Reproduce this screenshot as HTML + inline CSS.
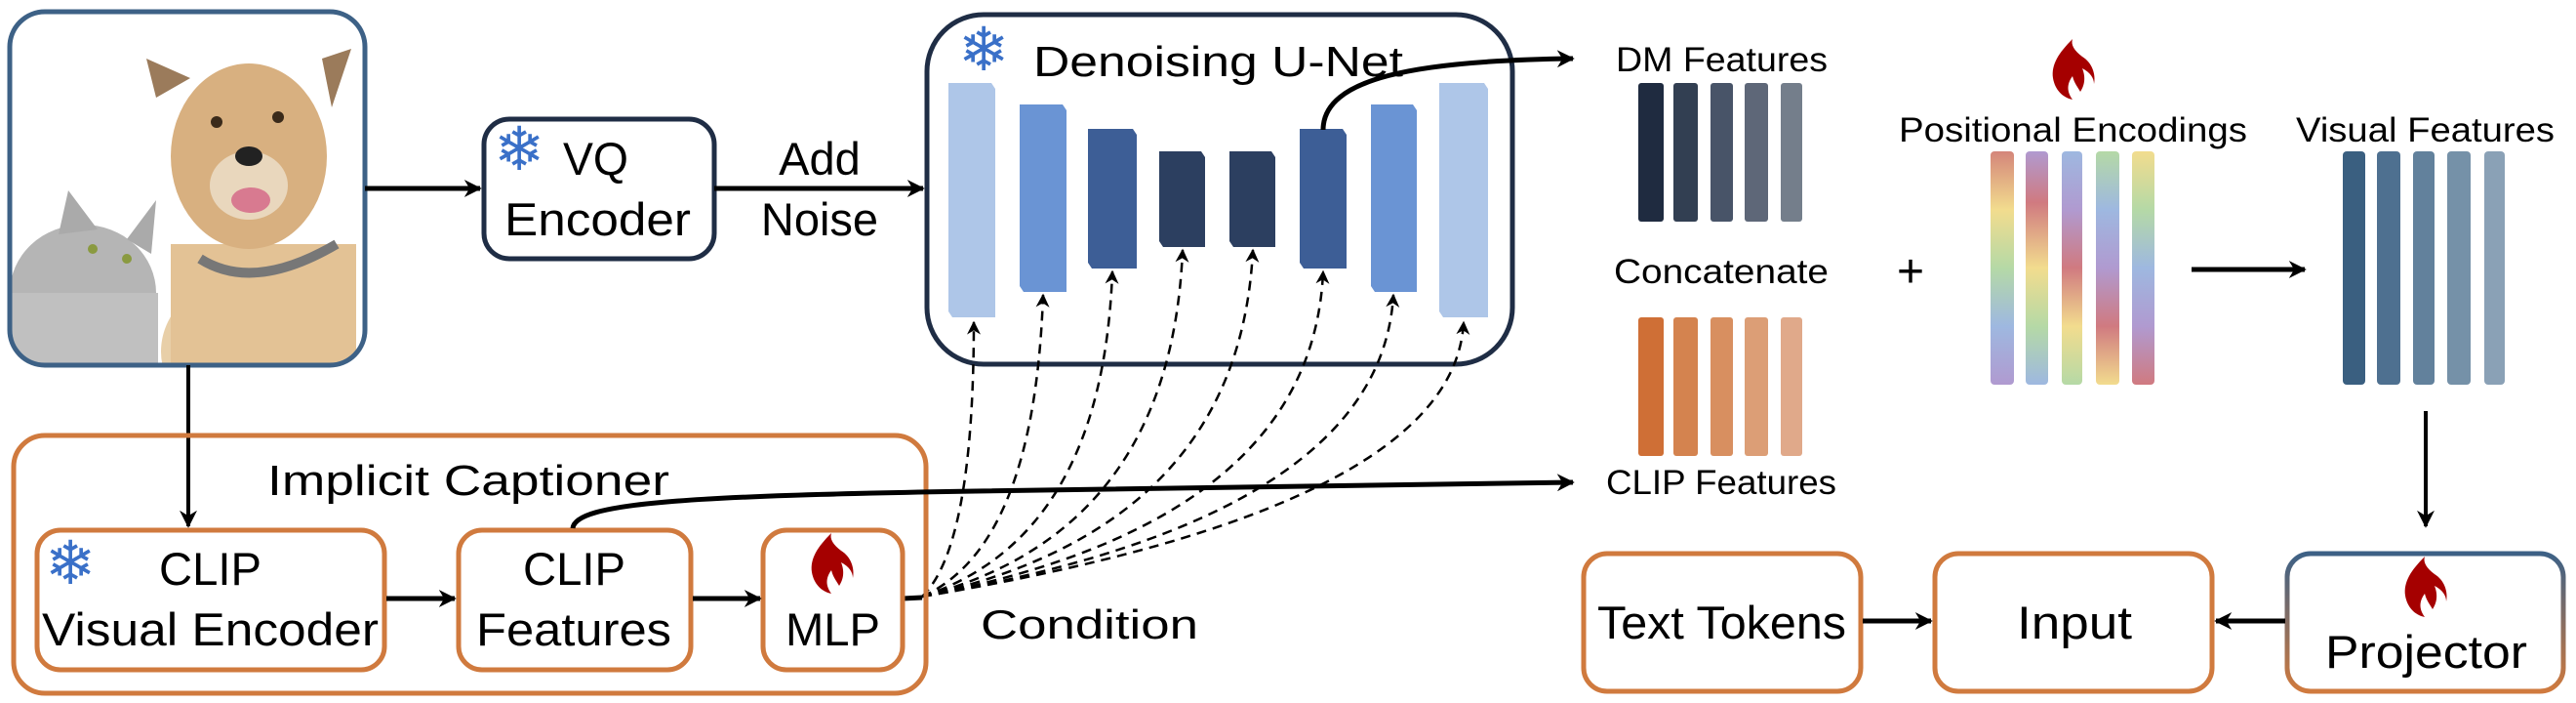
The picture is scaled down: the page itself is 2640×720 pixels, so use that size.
<!DOCTYPE html>
<html><head><meta charset="utf-8"><style>
html,body{margin:0;padding:0;background:#fff;}
svg{display:block;}
text{font-family:"Liberation Sans",sans-serif;fill:#000;}
</style></head><body>
<svg width="2640" height="720" viewBox="0 0 2640 720" xmlns="http://www.w3.org/2000/svg">
<defs>
<clipPath id="pc"><rect x="10" y="12" width="364" height="362" rx="36"/></clipPath>
<marker id="bh" viewBox="0 0 10 10" refX="9" refY="5" markerWidth="18" markerHeight="18" orient="auto" markerUnits="userSpaceOnUse">
<path d="M0,0 L10,5 L0,10 L3,5 Z" fill="#000"/></marker>
<marker id="dh" viewBox="0 0 10 10" refX="9" refY="5" markerWidth="14" markerHeight="14" orient="auto" markerUnits="userSpaceOnUse">
<path d="M0,0 L10,5 L0,10 L3,5 Z" fill="#000"/></marker>
<linearGradient id="pg" x1="0" y1="0" x2="0" y2="1">
<stop offset="0" stop-color="#3d6186"/><stop offset="1" stop-color="#d07a3e"/></linearGradient>
<linearGradient id="r1" x1="0" y1="0" x2="0" y2="1"><stop offset="0" stop-color="#d4857a"/><stop offset=".25" stop-color="#f2dc8e"/><stop offset=".5" stop-color="#b5d9a6"/><stop offset=".75" stop-color="#9eb8e0"/><stop offset="1" stop-color="#b09ad0"/></linearGradient>
<linearGradient id="r2" x1="0" y1="0" x2="0" y2="1"><stop offset="0" stop-color="#b09ad0"/><stop offset=".22" stop-color="#d07a80"/><stop offset=".5" stop-color="#f2dc8e"/><stop offset=".75" stop-color="#b5d9a6"/><stop offset="1" stop-color="#9eb8e0"/></linearGradient>
<linearGradient id="r3" x1="0" y1="0" x2="0" y2="1"><stop offset="0" stop-color="#9eb8e0"/><stop offset=".25" stop-color="#b09ad0"/><stop offset=".5" stop-color="#d07a80"/><stop offset=".75" stop-color="#f2dc8e"/><stop offset="1" stop-color="#b5d9a6"/></linearGradient>
<linearGradient id="r4" x1="0" y1="0" x2="0" y2="1"><stop offset="0" stop-color="#b5d9a6"/><stop offset=".25" stop-color="#9eb8e0"/><stop offset=".5" stop-color="#b09ad0"/><stop offset=".75" stop-color="#d07a80"/><stop offset="1" stop-color="#f2dc8e"/></linearGradient>
<linearGradient id="r5" x1="0" y1="0" x2="0" y2="1"><stop offset="0" stop-color="#f2dc8e"/><stop offset=".25" stop-color="#b5d9a6"/><stop offset=".5" stop-color="#9eb8e0"/><stop offset=".75" stop-color="#b09ad0"/><stop offset="1" stop-color="#d07a80"/></linearGradient>
<g id="fire"><path d="M22,0 C8,14 0,26 2,40 C4,52 12,60 22,62 C16,54 16,46 22,38 C24,46 28,50 30,54 C34,48 36,40 32,30 C40,34 44,40 44,46 C46,36 42,24 32,18 C24,12 20,6 22,0 Z" fill="#a50000"/></g>
</defs>

<!-- Photo -->
<g clip-path="url(#pc)">
<rect x="10" y="12" width="364" height="362" fill="#fff"/>
<ellipse cx="260" cy="360" rx="95" ry="80" fill="#e8cfa8"/>
<rect x="175" y="250" width="190" height="130" fill="#e3c295"/>
<ellipse cx="255" cy="160" rx="80" ry="95" fill="#d8b080"/>
<path d="M160,100 L150,60 L195,80 Z" fill="#9b7b5b"/>
<path d="M330,60 L360,50 L340,110 Z" fill="#9b7b5b"/>
<ellipse cx="255" cy="190" rx="40" ry="35" fill="#e9d7bd"/>
<ellipse cx="255" cy="160" rx="14" ry="10" fill="#222"/>
<ellipse cx="257" cy="205" rx="20" ry="13" fill="#d87a90"/>
<circle cx="222" cy="125" r="6" fill="#3a2a1a"/><circle cx="285" cy="120" r="6" fill="#3a2a1a"/>
<path d="M205,265 Q260,300 345,250" stroke="#777" stroke-width="10" fill="none"/>
<ellipse cx="85" cy="300" rx="75" ry="70" fill="#b5b5b5"/>
<rect x="12" y="300" width="150" height="80" fill="#c0c0c0"/>
<path d="M60,240 L70,195 L100,235 Z" fill="#aaa"/><path d="M130,245 L160,205 L155,260 Z" fill="#aaa"/>
<circle cx="95" cy="255" r="5" fill="#8a9a40"/><circle cx="130" cy="265" r="5" fill="#8a9a40"/>
</g>
<rect x="10" y="12" width="364" height="362" rx="36" fill="none" stroke="#3d6186" stroke-width="5"/>

<!-- VQ encoder -->
<rect x="496" y="122" width="236" height="143" rx="26" fill="#fff" stroke="#1f2d45" stroke-width="5"/>
<text x="506" y="174" font-size="62" style="fill:#3a70c8;font-family:'DejaVu Sans'">❄</text>
<text x="577" y="179" font-size="47" textLength="67" lengthAdjust="spacingAndGlyphs">VQ</text>
<text x="517" y="241" font-size="47" textLength="191" lengthAdjust="spacingAndGlyphs">Encoder</text>
<text x="840" y="179" font-size="47" text-anchor="middle">Add</text>
<text x="840" y="241" font-size="47" text-anchor="middle">Noise</text>

<line x1="374" y1="193" x2="492" y2="193" stroke="#000" stroke-width="5" marker-end="url(#bh)"/>
<line x1="732" y1="193" x2="946" y2="193" stroke="#000" stroke-width="5" marker-end="url(#bh)"/>
<line x1="193" y1="374" x2="193" y2="539" stroke="#000" stroke-width="4" marker-end="url(#bh)"/>

<!-- U-Net -->
<rect x="950" y="15" width="600" height="358" rx="58" fill="#fff" stroke="#1f2d45" stroke-width="5"/>
<text x="982" y="72" font-size="62" style="fill:#3a70c8;font-family:'DejaVu Sans'">❄</text>
<text x="1059" y="78" font-size="44" textLength="379" lengthAdjust="spacingAndGlyphs">Denoising U-Net</text>
<g>
<path d="M972,85 L1016,85 L1020,91 L1020,325 L976,325 L972,319 Z" fill="#aec6e8"/>
<path d="M1045,107 L1089,107 L1093,113 L1093,299 L1049,299 L1045,293 Z" fill="#6a94d4"/>
<path d="M1115,132 L1161,132 L1165,138 L1165,275 L1119,275 L1115,269 Z" fill="#3d5e96"/>
<path d="M1188,155 L1231,155 L1235,161 L1235,253 L1192,253 L1188,247 Z" fill="#2c3f60"/>
<path d="M1260,155 L1303,155 L1307,161 L1307,253 L1264,253 L1260,247 Z" fill="#2c3f60"/>
<path d="M1332,132 L1376,132 L1380,138 L1380,275 L1336,275 L1332,269 Z" fill="#3d5e96"/>
<path d="M1405,107 L1448,107 L1452,113 L1452,299 L1409,299 L1405,293 Z" fill="#6a94d4"/>
<path d="M1475,85 L1521,85 L1525,91 L1525,325 L1479,325 L1475,319 Z" fill="#aec6e8"/>
</g>
<g fill="none" stroke="#000" stroke-width="2.5" stroke-dasharray="10,7">
<line x1="925" y1="613" x2="945" y2="612" stroke-dasharray="none" stroke-width="5"/>
<path d="M945,611 Q998,560 998,330" marker-end="url(#dh)"/>
<path d="M945,611 Q1060,560 1069,302" marker-end="url(#dh)"/>
<path d="M945,611 Q1130,550 1140,278" marker-end="url(#dh)"/>
<path d="M945,611 Q1200,545 1212,256" marker-end="url(#dh)"/>
<path d="M945,611 Q1270,540 1284,256" marker-end="url(#dh)"/>
<path d="M945,611 Q1345,535 1356,278" marker-end="url(#dh)"/>
<path d="M945,611 Q1415,530 1428,302" marker-end="url(#dh)"/>
<path d="M945,611 Q1490,520 1500,330" marker-end="url(#dh)"/>
</g>
<path d="M1356,133 C1356,80 1450,62 1612,60" fill="none" stroke="#000" stroke-width="5" marker-end="url(#bh)"/>

<!-- Implicit captioner -->
<rect x="14" y="446" width="935" height="264" rx="32" fill="none" stroke="#d07a3e" stroke-width="5"/>
<text x="274" y="507" font-size="44" textLength="412" lengthAdjust="spacingAndGlyphs">Implicit Captioner</text>
<rect x="38" y="543" width="356" height="143" rx="24" fill="#fff" stroke="#d07a3e" stroke-width="5"/>
<text x="46" y="598" font-size="62" style="fill:#3a70c8;font-family:'DejaVu Sans'">❄</text>
<text x="163" y="599" font-size="47" textLength="105" lengthAdjust="spacingAndGlyphs">CLIP</text>
<text x="43" y="661" font-size="47" textLength="345" lengthAdjust="spacingAndGlyphs">Visual Encoder</text>
<rect x="470" y="543" width="238" height="143" rx="24" fill="#fff" stroke="#d07a3e" stroke-width="5"/>
<text x="536" y="599" font-size="47" textLength="105" lengthAdjust="spacingAndGlyphs">CLIP</text>
<text x="488" y="661" font-size="47" textLength="200" lengthAdjust="spacingAndGlyphs">Features</text>
<rect x="782" y="543" width="143" height="143" rx="24" fill="#fff" stroke="#d07a3e" stroke-width="5"/>
<use href="#fire" x="830" y="546"/>
<text x="805" y="661" font-size="47" textLength="97" lengthAdjust="spacingAndGlyphs">MLP</text>
<line x1="396" y1="613" x2="466" y2="613" stroke="#000" stroke-width="5" marker-end="url(#bh)"/>
<line x1="710" y1="613" x2="779" y2="613" stroke="#000" stroke-width="5" marker-end="url(#bh)"/>
<path d="M587,541 C590,515 700,508 1000,503 L1612,494" fill="none" stroke="#000" stroke-width="5" marker-end="url(#bh)"/>
<text x="1005" y="654" font-size="42" textLength="223" lengthAdjust="spacingAndGlyphs">Condition</text>

<!-- Features -->
<text x="1656" y="73" font-size="35" textLength="217" lengthAdjust="spacingAndGlyphs">DM Features</text>
<rect x="1679" y="85" width="26" height="142" rx="3" fill="#1f2b40"/>
<rect x="1715" y="85" width="25" height="142" rx="3" fill="#323f52"/>
<rect x="1753" y="85" width="23" height="142" rx="3" fill="#485468"/>
<rect x="1788" y="85" width="24" height="142" rx="3" fill="#5e6778"/>
<rect x="1825" y="85" width="22" height="142" rx="3" fill="#747e8b"/>
<text x="1654" y="290" font-size="35" textLength="220" lengthAdjust="spacingAndGlyphs">Concatenate</text>
<rect x="1679" y="325" width="26" height="142" rx="3" fill="#cf6f36"/>
<rect x="1715" y="325" width="25" height="142" rx="3" fill="#d4834f"/>
<rect x="1753" y="325" width="23" height="142" rx="3" fill="#d88f60"/>
<rect x="1788" y="325" width="24" height="142" rx="3" fill="#dc9e76"/>
<rect x="1825" y="325" width="22" height="142" rx="3" fill="#e0a98a"/>
<text x="1646" y="506" font-size="35" textLength="236" lengthAdjust="spacingAndGlyphs">CLIP Features</text>

<text x="1958" y="294" font-size="48" text-anchor="middle">+</text>
<use href="#fire" x="2102" y="40"/>
<text x="1946" y="145" font-size="35" textLength="357" lengthAdjust="spacingAndGlyphs">Positional Encodings</text>
<rect x="2040" y="155" width="24" height="239" rx="4" fill="url(#r1)"/>
<rect x="2076" y="155" width="23" height="239" rx="4" fill="url(#r2)"/>
<rect x="2113" y="155" width="21" height="239" rx="4" fill="url(#r3)"/>
<rect x="2148" y="155" width="24" height="239" rx="4" fill="url(#r4)"/>
<rect x="2185" y="155" width="23" height="239" rx="4" fill="url(#r5)"/>
<line x1="2246" y1="276" x2="2362" y2="276" stroke="#000" stroke-width="5" marker-end="url(#bh)"/>
<text x="2353" y="145" font-size="35" textLength="265" lengthAdjust="spacingAndGlyphs">Visual Features</text>
<rect x="2401" y="155" width="23" height="239" rx="4" fill="#3a5f80"/>
<rect x="2436" y="155" width="24" height="239" rx="4" fill="#4e7090"/>
<rect x="2473" y="155" width="22" height="239" rx="4" fill="#62819c"/>
<rect x="2508" y="155" width="24" height="239" rx="4" fill="#7591a8"/>
<rect x="2546" y="155" width="21" height="239" rx="4" fill="#8aa1b6"/>
<line x1="2486" y1="421" x2="2486" y2="539" stroke="#000" stroke-width="4" marker-end="url(#bh)"/>

<!-- Bottom right -->
<rect x="1623" y="567" width="284" height="141" rx="24" fill="#fff" stroke="#d07a3e" stroke-width="5"/>
<text x="1637" y="654" font-size="47" textLength="255" lengthAdjust="spacingAndGlyphs">Text Tokens</text>
<rect x="1983" y="567" width="284" height="141" rx="24" fill="#fff" stroke="#d07a3e" stroke-width="5"/>
<text x="2067" y="654" font-size="47" textLength="118" lengthAdjust="spacingAndGlyphs">Input</text>
<rect x="2344" y="567" width="283" height="141" rx="24" fill="#fff" stroke="url(#pg)" stroke-width="5"/>
<use href="#fire" x="2463" y="570"/>
<text x="2383" y="684" font-size="47" textLength="207" lengthAdjust="spacingAndGlyphs">Projector</text>
<line x1="1909" y1="636" x2="1979" y2="636" stroke="#000" stroke-width="5" marker-end="url(#bh)"/>
<line x1="2342" y1="636" x2="2271" y2="636" stroke="#000" stroke-width="5" marker-end="url(#bh)"/>
</svg>
</body></html>
